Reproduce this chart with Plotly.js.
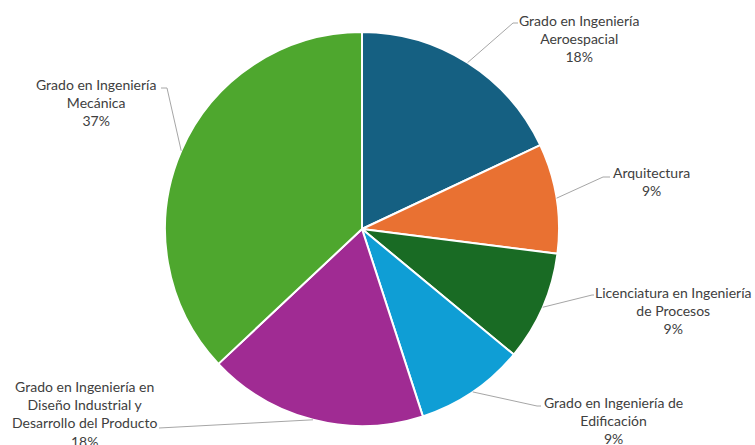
<!DOCTYPE html>
<html>
<head>
<meta charset="utf-8">
<script src="https://cdn.plot.ly/plotly-3.0.1.min.js"></script>
<style>html,body{margin:0;padding:0;background:#fff;}#chart{width:755px;height:445px;}</style>
</head>
<body>
<div id="chart"></div>
<script>
// Data
const categories = [
  "Grado en Ingeniería Aeroespacial",
  "Arquitectura",
  "Licenciatura en Ingeniería de Procesos",
  "Grado en Ingeniería de Edificación",
  "Grado en Ingeniería en Diseño Industrial y Desarrollo del Producto",
  "Grado en Ingeniería Mecánica"
];
const labelLines = [
  ["Grado en Ingeniería", "Aeroespacial"],
  ["Arquitectura"],
  ["Licenciatura en Ingeniería", "de Procesos"],
  ["Grado en Ingeniería de", "Edificación"],
  ["Grado en Ingeniería en", "Diseño Industrial y", "Desarrollo del Producto"],
  ["Grado en Ingeniería", "Mecánica"]
];
const percents = [18, 9, 9, 9, 18, 37];
const colors = ["#156082", "#E97132", "#196B24", "#0F9ED5", "#A02B93", "#4EA72E"];

// Layout (pixels)
const W = 755, H = 445;
const cx = 362, cy = 229, R = 197;
// label text centre and leader-line bend/end points
const labelPos = [
  {tx: 579, ty: 38,  bx: 513, by: 23,  ex: 518, ey: 23},
  {tx: 651, ty: 181, bx: 603, by: 177, ex: 610, ey: 177},
  {tx: 673, ty: 310, bx: 592, by: 295, ex: 594, ey: 295},
  {tx: 613, ty: 420, bx: 537, by: 406, ex: 541, ey: 406},
  {tx: 84,  ty: 414, bx: 159, by: 428, ex: 159, ey: 428},
  {tx: 96,  ty: 103, bx: 167, by: 88,  ex: 161, ey: 88}
];

const px = x => x / W;
const py = y => 1 - y / H;

const total = percents.reduce((a, b) => a + b, 0);
let cum = 0;
const shapes = [];
const annotations = [];
percents.forEach((v, i) => {
  const mid = (cum + v / 2) / total * 2 * Math.PI;
  cum += v;
  const ex = cx + R * Math.sin(mid), ey = cy - R * Math.cos(mid);
  const L = labelPos[i];
  shapes.push({
    type: 'path', xref: 'paper', yref: 'paper',
    path: `M ${px(ex)} ${py(ey)} L ${px(L.bx)} ${py(L.by)} L ${px(L.ex)} ${py(L.ey)}`,
    line: {color: '#A6A6A6', width: 1}
  });
  annotations.push({
    xref: 'paper', yref: 'paper', x: px(L.tx), y: py(L.ty),
    xanchor: 'center', yanchor: 'middle', showarrow: false, align: 'center',
    text: labelLines[i].concat([v + '%']).join('<br>'),
    font: {family: 'Lato, "Open Sans", sans-serif', size: 14, color: '#404040'}
  });
});

const trace = {
  type: 'pie',
  labels: categories,
  values: percents,
  sort: false,
  direction: 'clockwise',
  rotation: 0,
  textinfo: 'none',
  hoverinfo: 'label+percent',
  marker: {colors: colors, line: {color: '#FFFFFF', width: 2}},
  domain: {x: [(cx - R) / W, (cx + R) / W], y: [1 - (cy + R) / H, 1 - (cy - R) / H]},
  showlegend: false
};

Plotly.newPlot('chart', [trace], {
  width: W, height: H,
  margin: {l: 0, r: 0, t: 0, b: 0},
  paper_bgcolor: '#FFFFFF',
  shapes: shapes,
  annotations: annotations,
  showlegend: false
}, {displayModeBar: false, staticPlot: true});
</script>
</body>
</html>
